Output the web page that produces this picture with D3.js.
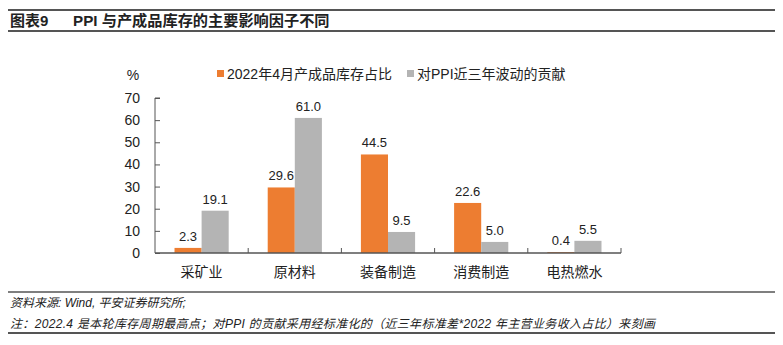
<!DOCTYPE html>
<html>
<head>
<meta charset="utf-8">
<script src="https://cdn.jsdelivr.net/npm/d3@7"></script>
<style>
  body { margin: 0; background: #fff; }
  svg { font-family: "Liberation Sans", Arial, "Noto Sans CJK SC", sans-serif; }
</style>
</head>
<body>
<svg id="chart" width="783" height="345"></svg>
<script>
var categories = ["采矿业", "原材料", "装备制造", "消费制造", "电热燃水"];
var inventoryShare = [2.3, 29.6, 44.5, 22.6, 0.4];
var ppiContribution = [19.1, 61.0, 9.5, 5.0, 5.5];
var seriesNames = ["2022年4月产成品库存占比", "对PPI近三年波动的贡献"];
var yTicks = [0, 10, 20, 30, 40, 50, 60, 70];

var colors = ["#ED7D31", "#B4B4B4"];
var margin = ({top: 98, left: 155, right: 162, bottom: 92});
var W = 783, H = 345;

var svg = d3.select("svg#chart");

// header and footer rules
var rules = [[10, 2], [31, 2], [292, 1.5], [333, 2]];
svg.selectAll(".rule").data(rules).join("line")
  .attr("x1", 8).attr("x2", 775)
  .attr("y1", d => d[0]).attr("y2", d => d[0])
  .attr("stroke", "#555").attr("stroke-width", d => d[1]);

svg.append("text").attr("x", 10).attr("y", 26)
  .attr("font-size", 15).attr("font-weight", "bold").attr("fill", "#222")
  .text("图表9");
svg.append("text").attr("x", 73).attr("y", 26)
  .attr("font-size", 15.2).attr("font-weight", "bold").attr("fill", "#222")
  .text("PPI 与产成品库存的主要影响因子不同");

var x = d3.scaleBand().domain(categories).range([margin.left, W - margin.right]);
var x1 = d3.scaleBand().domain([0, 1]).range([0, x.bandwidth()]).paddingOuter(0.72).paddingInner(0);
var y = d3.scaleLinear().domain([0, 70]).range([H - margin.bottom, margin.top]);

var data = categories.map((c, i) => ({cat: c, values: [inventoryShare[i], ppiContribution[i]]}));

var groups = svg.append("g").selectAll("g").data(data).join("g")
  .attr("transform", d => `translate(${x(d.cat)},0)`);

groups.selectAll("rect").data(d => d.values.map((v, k) => ({k: k, v: v})))
  .join("rect")
  .attr("x", d => x1(d.k))
  .attr("width", x1.bandwidth())
  .attr("y", d => y(d.v))
  .attr("height", d => y(0) - y(d.v))
  .attr("fill", d => colors[d.k]);

groups.selectAll("text").data(d => d.values.map((v, k) => ({k: k, v: v})))
  .join("text")
  .attr("x", d => x1(d.k) + x1.bandwidth() / 2)
  .attr("y", d => y(d.v) - 7)
  .attr("text-anchor", "middle")
  .attr("font-size", 13).attr("fill", "#222")
  .text(d => d.v.toFixed(1));

// y axis
var yAxis = svg.append("g")
  .attr("transform", `translate(${margin.left},0)`)
  .call(d3.axisRight(y).tickValues(yTicks).tickSize(5).tickFormat(""));
yAxis.selectAll("path, line").attr("stroke", "#555");
yAxis.select(".domain").attr("d", `M5,${y(70)}H0V${y(0)}`);
svg.append("g").selectAll("text").data(yTicks).join("text")
  .attr("x", 140).attr("y", d => y(d)).attr("dy", "0.36em")
  .attr("text-anchor", "end").attr("font-size", 14).attr("fill", "#222")
  .text(d => d);
svg.append("text").attr("x", 133).attr("y", 80).attr("text-anchor", "middle")
  .attr("font-size", 14).attr("fill", "#222").text("%");

// x axis with upward ticks at category boundaries
var xAxis = svg.append("g").attr("transform", `translate(0,${y(0)})`);
xAxis.append("line").attr("x1", margin.left).attr("x2", W - margin.right)
  .attr("stroke", "#555").attr("stroke-width", 1.5);
xAxis.selectAll(".tk").data(categories.slice(1).concat(["end"])).join("line")
  .attr("x1", d => d === "end" ? W - margin.right : x(d))
  .attr("x2", d => d === "end" ? W - margin.right : x(d))
  .attr("y1", 0).attr("y2", -5).attr("stroke", "#555");
xAxis.selectAll("text").data(categories).join("text")
  .attr("x", d => x(d) + x.bandwidth() / 2).attr("y", 24)
  .attr("text-anchor", "middle").attr("font-size", 14).attr("fill", "#222")
  .text(d => d);

// legend
var legendX = [217, 407];
var legend = svg.append("g").selectAll("g").data(seriesNames).join("g")
  .attr("transform", (d, i) => `translate(${legendX[i]},74)`);
legend.append("rect").attr("x", 0).attr("y", -4).attr("width", 7).attr("height", 7)
  .attr("fill", (d, i) => colors[i]);
legend.append("text").attr("x", 10).attr("y", 0).attr("dy", "0.36em")
  .attr("font-size", 14).attr("fill", "#222").text(d => d);

// notes
svg.append("text").attr("x", 10).attr("y", 307)
  .attr("font-size", 12).attr("font-style", "italic").attr("fill", "#222")
  .text("资料来源: Wind, 平安证券研究所;");
svg.append("text").attr("x", 10).attr("y", 328)
  .attr("font-size", 12).attr("font-style", "italic").attr("fill", "#222")
  .attr("textLength", 645).attr("lengthAdjust", "spacing")
  .text("注：2022.4 是本轮库存周期最高点；对PPI 的贡献采用经标准化的（近三年标准差*2022 年主营业务收入占比）来刻画");
</script>
</body>
</html>
